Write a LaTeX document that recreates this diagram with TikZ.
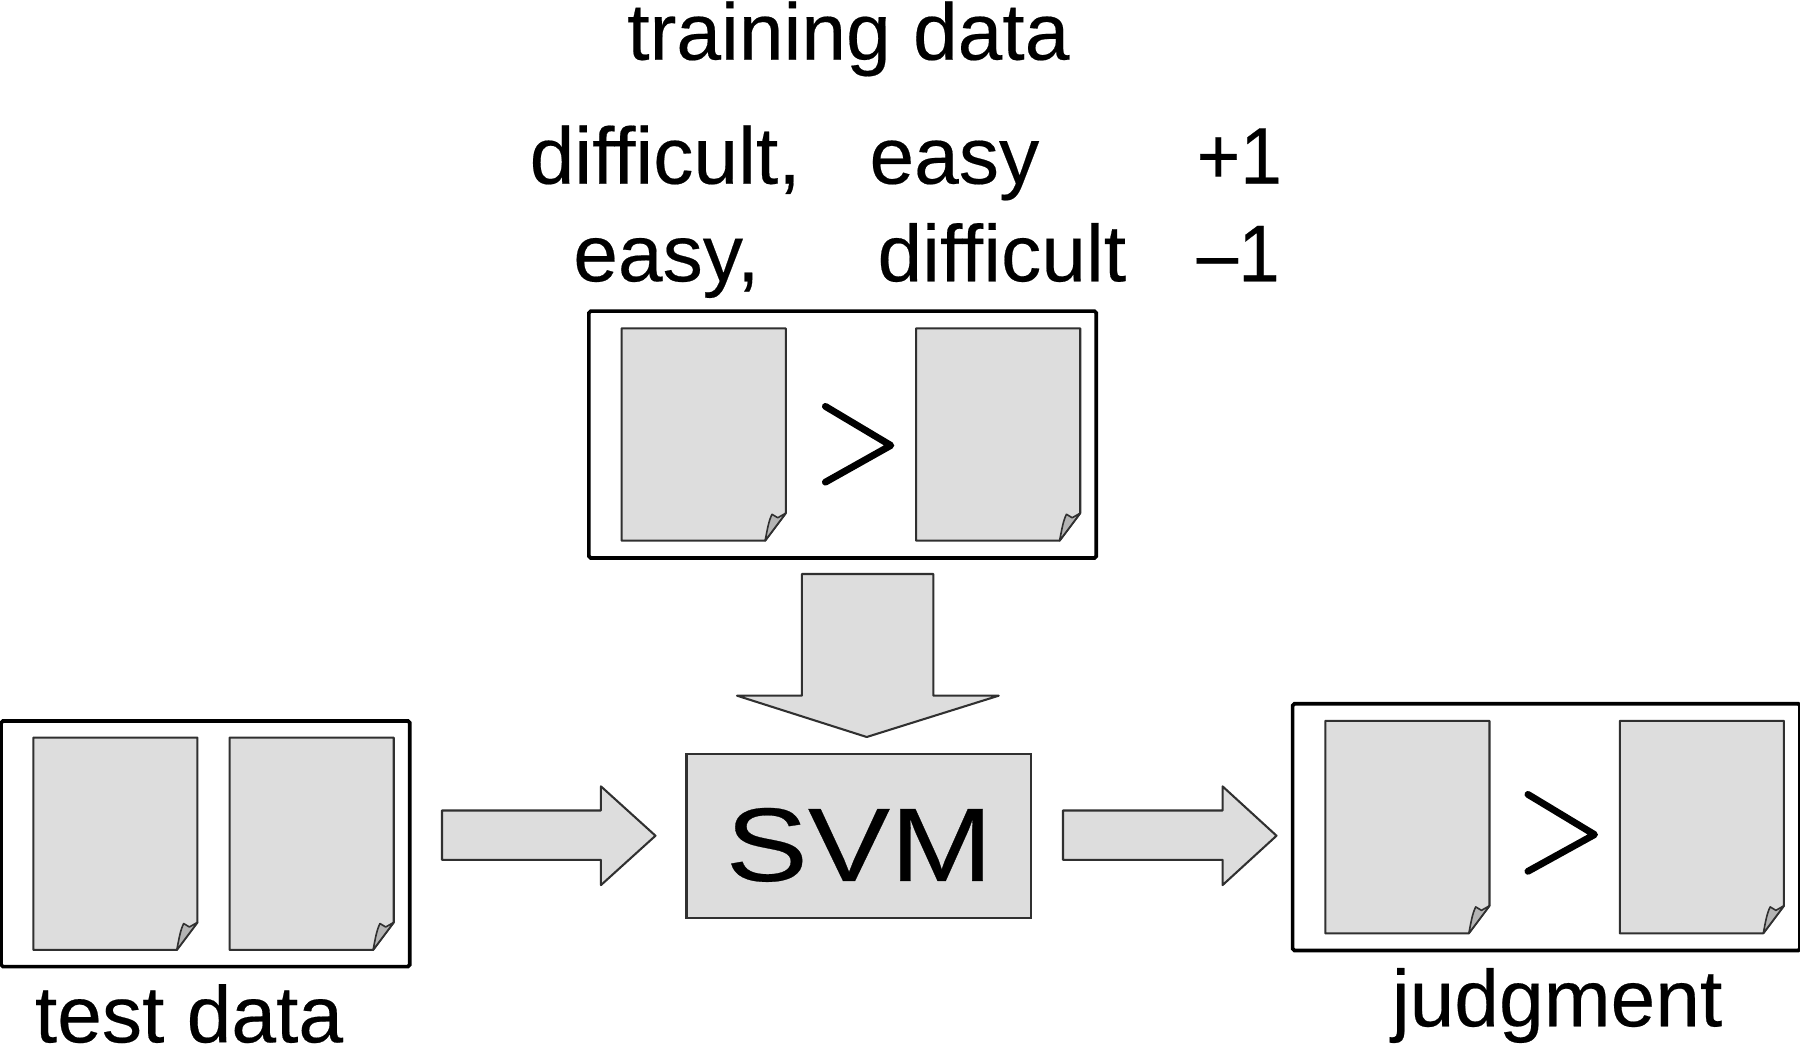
\documentclass[tikz,border=0pt]{standalone}
\usepackage{fontspec}
\setmainfont{Liberation Sans}[FakeBold=0.25]
\definecolor{pagegray}{HTML}{DDDDDD}
\definecolor{foldgray}{HTML}{B4B4B4}
\definecolor{edgegray}{HTML}{303030}
\tikzset{
  framebox/.style={draw=black,fill=white,line width=1.6pt,rounded corners=0.8pt,inner sep=0pt},
  svmbox/.style={draw=edgegray,fill=pagegray,line width=0.9pt,inner sep=0pt},
  sheet/.style={draw=edgegray,fill=pagegray,line width=0.9pt,line join=round},
  blockarrow/.style={draw=edgegray,fill=pagegray,line width=0.9pt,line join=round},
  gtmark/.style={draw=black,line width=3pt,line cap=round,line join=round},
  lab/.style={inner sep=0pt,anchor=base west,font=\fontsize{35}{40}\selectfont},
  pics/docpage/.style={code={
    \draw[sheet] (0,0) -- (143,0) -- (143,161) -- (125,185) -- (0,185) -- cycle;
    \draw[sheet,fill=foldgray,line width=0.7pt] (125,185) .. controls (127,175) and (128,168) .. (131,162) -- (136,165) -- (143,161) -- cycle;
  }}
}
\begin{document}
\begin{tikzpicture}[x=0.5pt,y=-0.5pt]
\useasboundingbox (0,0) rectangle (1568,912);
% frames
\node[framebox,minimum width=221pt,minimum height=107.5pt] (trainbox) at (734,378.5) {};
\node[framebox,minimum width=178pt,minimum height=107pt] (testbox) at (179,735) {};
\node[framebox,minimum width=221pt,minimum height=107.5pt] (judgebox) at (1347,720.5) {};
% pages
\pic at (541.5,286) {docpage};
\pic at (798,286) {docpage};
\pic at (29,642.5) {docpage};
\pic at (200,642.5) {docpage};
\pic at (1154.5,628) {docpage};
\pic at (1411,628) {docpage};
% greater-than marks
\draw[gtmark] (719,354) -- (776,388) -- (719,420);
\draw[gtmark] (1331,692) -- (1389,727) -- (1331,759);
% SVM
\node[svmbox,minimum width=150pt,minimum height=71.5pt] (svm) at (748,728) {};
\node[inner sep=0pt,font=\fontsize{45.5}{50}\selectfont,xscale=1.18] (svmtext) at (748.5,736) {SVM};
% block arrows
\draw[blockarrow] (698.5,500) -- (813,500) -- (813,606) -- (870,606) -- (755,642) -- (642,606) -- (698.5,606) -- cycle;
\draw[blockarrow] (385,706) -- (523.5,706) -- (523.5,685) -- (571,728) -- (523.5,771) -- (523.5,749) -- (385,749) -- cycle;
\draw[blockarrow] (926,706) -- (1065,706) -- (1065,685) -- (1112,728) -- (1065,771) -- (1065,749) -- (926,749) -- cycle;
% labels
\node[lab] (training) at (546,52) {training data};
\node[lab] (d1) at (461,160) {difficult,};
\node[lab] (e1) at (757,160) {easy};
\node[lab,xscale=0.93] (p1) at (1042,160) {+1};
\node[lab] (e2) at (499,245) {easy,};
\node[lab] (d2) at (764,245) {difficult};
\node[lab,xscale=0.93] (m1) at (1042,245) {–1};
\node[lab] (test) at (30,908) {test data};
\node[lab] (judg) at (1212,894) {judgment};
\end{tikzpicture}
\end{document}
